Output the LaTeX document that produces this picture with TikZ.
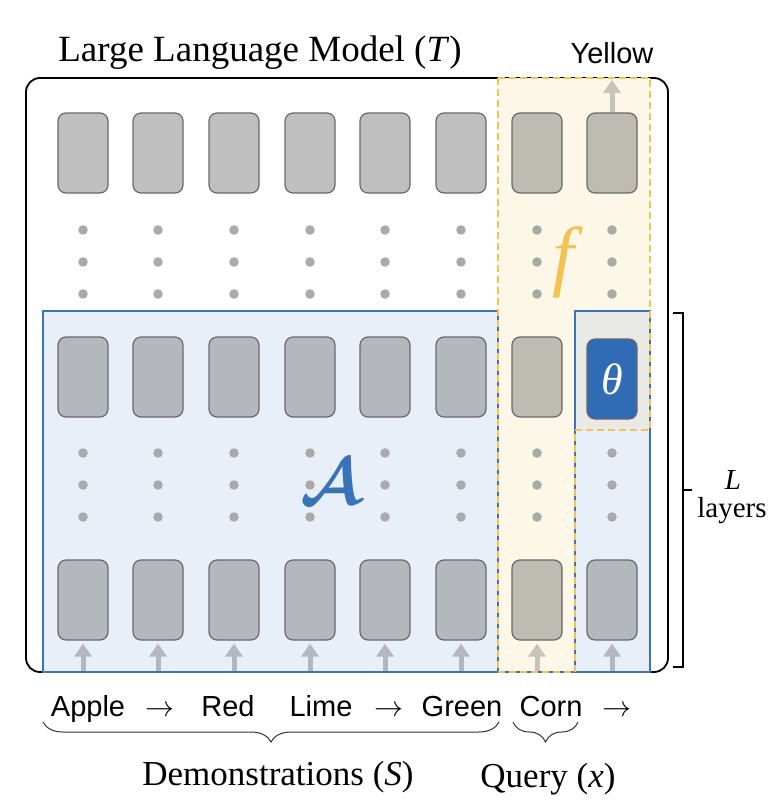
\documentclass[tikz,border=0pt]{standalone}
\usepackage{fix-cm}
\usepackage{amsmath,amssymb}
\usepackage{fontspec}
\setmainfont{Liberation Serif}
\setsansfont{Liberation Sans}
\usepackage{tikz}
\usetikzlibrary{arrows.meta,positioning,calc,decorations.pathreplacing}
\definecolor{TokGray}{RGB}{128,128,128}
\definecolor{EdgeGray}{RGB}{105,105,105}
\definecolor{AlgBlue}{RGB}{58,116,184}
\definecolor{AlgFill}{RGB}{233,239,249}
\definecolor{FnYellow}{RGB}{243,194,80}
\definecolor{FnFill}{RGB}{253,247,232}
\definecolor{ThetaFill}{RGB}{233,233,229}
\definecolor{ThetaBlue}{RGB}{47,108,181}
\definecolor{DotGray}{RGB}{170,170,170}
\definecolor{ArrGray}{RGB}{180,183,190}
\definecolor{ArrBeige}{RGB}{198,195,184}

\begin{document}
\begin{tikzpicture}[x=1pt,y=-1pt,
          tok/.style={draw=EdgeGray,fill=TokGray,fill opacity=0.5,rounded corners=8pt,
                      minimum width=50pt,minimum height=80pt,line width=1.2pt,inner sep=0pt},
          th/.style={tok,fill=ThetaBlue,fill opacity=1,text=white,font=\fontsize{44}{46}\selectfont},
          dt/.style={DotGray},
          ar/.style={-{Triangle[length=13pt,width=17pt]},line width=5pt,ArrGray,shorten >=3pt},
          wd/.style={font=\sffamily\fontsize{29}{32}\selectfont,anchor=base},
          lbl/.style={font=\fontsize{35}{38}\selectfont,anchor=base},
          brc/.style={decorate,decoration={brace,amplitude=20pt,mirror},line width=1pt,black!80},
          blu/.style={AlgBlue,line width=2pt},
          ylw/.style={FnYellow,line width=2.6pt,dash pattern=on 7pt off 4pt}
        ]
          \useasboundingbox (0,0) rectangle (778,806);

          % model frame and regions
          \draw[line width=1.8pt,rounded corners=14pt] (26,78) rectangle (668,672);
          \fill[AlgFill] (43,311) rectangle (650,672);
          \fill[FnFill] (498,78) -- (650,78) -- (650,430) -- (575,430) -- (575,672) -- (498,672) -- cycle;
          \fill[ThetaFill] (575,311) rectangle (650,430);
          \draw[blu] (498,311) -- (43,311) -- (43,672) -- (650,672) -- (650,311) -- (575,311) -- (575,672);
          \draw[blu] (498,311) -- (498,672);
          \draw[ylw] (498,78) -- (650,78) -- (650,430) -- (575,430) -- (575,672) -- (498,672) -- cycle;

          % tokens
          \foreach \c/\x in {1/83,2/158,3/234,4/310,5/385,6/461,7/537,8/612}{
            \node[tok] (top\c) at (\x,153) {};
            \node[tok] (bot\c) at (\x,600) {};
            \foreach \y in {230,262,294,453,485,517}
              \fill[dt] (\x,\y) circle (4.8pt);
            \coordinate (in\c) at (\x,671);
          }
          \foreach \c/\x in {1/83,2/158,3/234,4/310,5/385,6/461,7/537}
            \node[tok] (mid\c) at (\x,377) {};
          \node[th] (mid8) at (612,379) {\textit{θ}};

          \foreach \c in {1,...,6,8}
            \draw[ar] (in\c) -- (bot\c);
          \draw[ar,ArrBeige] (in7) -- (bot7);
          \coordinate (out) at (612,80);
          \draw[ar,ArrBeige,shorten >=0pt] (top8) -- (out);

          \node[text=FnYellow,font=\fontsize{78}{80}\selectfont] (fn) at (568,262) {\textit{f}};
          \node[text=AlgBlue,font=\fontsize{66}{68}\selectfont] (alg) at (331,482) {$\boldsymbol{\mathcal{A}}$};

          % labels
          \node[lbl,font=\fontsize{37}{40}\selectfont] (title) at (260,61) {Large Language Model (\textit{T})};
          \node[wd] (ans) at (612,63) {Yellow};

          \node[wd] (w1) at (88,716) {Apple};
          \node[wd] (a1) at (160,716) {$\rightarrow$};
          \node[wd] (w2) at (228,716) {Red};
          \node[wd] (w3) at (321,716) {Lime};
          \node[wd] (a2) at (389,716) {$\rightarrow$};
          \node[wd] (w4) at (462,716) {Green};
          \node[wd] (w5) at (551,716) {Corn};
          \node[wd] (a3) at (617,716) {$\rightarrow$};

          \coordinate (d1) at (43,722);
          \coordinate (d2) at (499,722);
          \coordinate (q1) at (513,722);
          \coordinate (q2) at (578,722);
          \draw[brc] (d1) -- (d2);
          \draw[brc] (q1) -- (q2);
          \node[lbl] (demo) at (278,785) {Demonstrations (\textit{S})};
          \node[lbl] (query) at (548,787) {Query (\textit{x})};

          % layer bracket
          \coordinate (b1) at (673,313);
          \coordinate (b2) at (673,667);
          \draw[line width=1.3pt] (b1) -- ++(10,0) |- (b2);
          \draw[line width=1.3pt] (683,490) -- ++(9,0);
          \node[anchor=base,font=\fontsize{29}{30}\selectfont] (nl) at (733,489) {\textit{L}};
          \node[anchor=base,font=\fontsize{29}{30}\selectfont] (lyr) at (732,517) {layers};
        \end{tikzpicture}
\end{document}
